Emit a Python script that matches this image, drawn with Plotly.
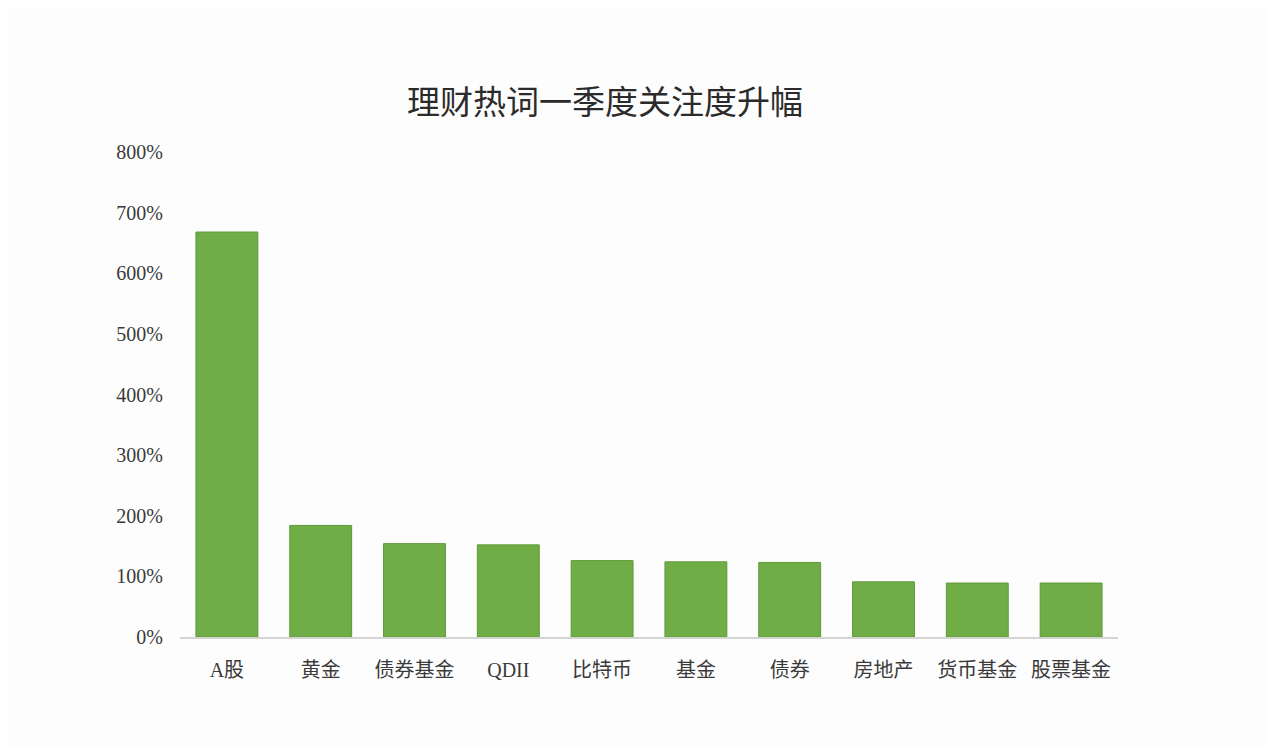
import plotly.graph_objects as go

# data
categories = ["A股", "黄金", "债券基金", "QDII", "比特币", "基金", "债券", "房地产", "货币基金", "股票基金"]
growth = [6.68, 1.84, 1.54, 1.52, 1.26, 1.24, 1.23, 0.91, 0.89, 0.89]
tick_vals = [0, 1, 2, 3, 4, 5, 6, 7, 8]
tick_text = ["0%", "100%", "200%", "300%", "400%", "500%", "600%", "700%", "800%"]

font_family = "Liberation Serif, Noto Sans CJK SC, serif"

fig = go.Figure()
fig.add_trace(go.Bar(
    x=categories,
    y=growth,
    marker=dict(color="#70ad47", line=dict(color="#5f9a3a", width=1)),
    hoverinfo="x+y",
))

# page body adds an 8px offset, so margins are shifted by 8
fig.update_layout(
    width=1276,
    height=746,
    paper_bgcolor="#fdfdfd",
    plot_bgcolor="#fdfdfd",
    margin=dict(l=172, r=166, t=144, b=117),
    bargap=0.34,
    showlegend=False,
    title=dict(
        text="理财热词一季度关注度升幅",
        x=597 / 1276,
        xanchor="center",
        y=1 - 94 / 746,
        yanchor="middle",
        xref="container",
        yref="container",
        font=dict(family="Noto Sans CJK SC", size=33, color="#2b2b2b"),
    ),
    font=dict(family=font_family, color="#3a3a3a"),
)

fig.update_xaxes(
    showline=True,
    linecolor="#d4d4d4",
    linewidth=1.5,
    showgrid=False,
    ticks="",
    ticklabelstandoff=14,
    tickfont=dict(family=font_family, size=20, color="#3a3a3a"),
)

fig.update_yaxes(
    range=[0, 8],
    tickvals=tick_vals,
    ticktext=tick_text,
    showgrid=False,
    zeroline=False,
    showline=False,
    ticks="",
    ticklabelstandoff=16,
    tickfont=dict(family=font_family, size=20, color="#3a3a3a"),
)

fig.write_html("out.html")
